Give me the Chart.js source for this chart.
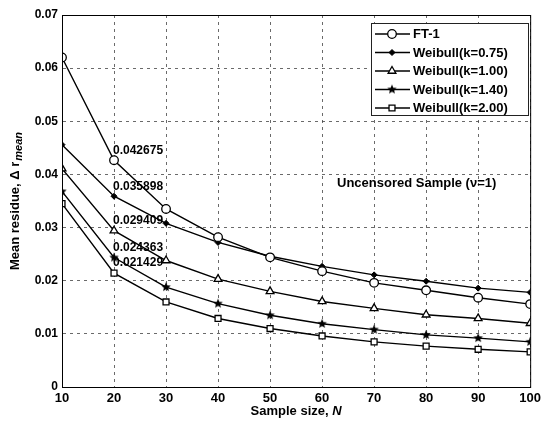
<!DOCTYPE html>
<html>
<head>
<meta charset="utf-8">
<script src="https://cdn.jsdelivr.net/npm/chart.js@4/dist/chart.umd.min.js"></script>
<style>
  html, body { margin: 0; padding: 0; background: #fff; }
  #wrap { width: 545px; height: 421px; position: relative; }
</style>
</head>
<body>
<div id="wrap"><canvas id="grafico"></canvas></div>
<script>
// ========== DADOS ==========
const tamanhos = [10, 20, 30, 40, 50, 60, 70, 80, 90, 100];

const serieFT1   = [0.0620, 0.042675, 0.0335, 0.0282, 0.0244, 0.0218, 0.0196, 0.0182, 0.0168, 0.0156];
const serieK075  = [0.0456, 0.035898, 0.0308, 0.0272, 0.0246, 0.0227, 0.0211, 0.0199, 0.0186, 0.0178];
const serieK100  = [0.0411, 0.029409, 0.0238, 0.0203, 0.0180, 0.0161, 0.0148, 0.0136, 0.0129, 0.0120];
const serieK140  = [0.0368, 0.024363, 0.0188, 0.0157, 0.0135, 0.0119, 0.0108, 0.0098, 0.0092, 0.0085];
const serieK200  = [0.0345, 0.021429, 0.0160, 0.0129, 0.0110, 0.0096, 0.0085, 0.0077, 0.0071, 0.0066];

const nomesSeries = ['FT-1', 'Weibull(k=0.75)', 'Weibull(k=1.00)', 'Weibull(k=1.40)', 'Weibull(k=2.00)'];
const rotulosPonto = ['0.042675', '0.035898', '0.029409', '0.024363', '0.021429'];
const textoAmostra = 'Uncensored Sample (\u03bd=1)';

const FONTE = "'Liberation Sans', Arial, sans-serif";

// ========== MARCADOR ESTRELA (preenchida) ==========
function criarEstrela(r) {
    const c = document.createElement('canvas');
    const t = Math.ceil(r * 2 + 2);
    c.width = t; c.height = t;
    const g = c.getContext('2d');
    g.fillStyle = '#000';
    g.beginPath();
    for (let k = 0; k < 10; k++) {
        const ang = -Math.PI / 2 + k * Math.PI / 5;
        const rr = (k % 2 === 0) ? r : r * 0.45;
        g.lineTo(t / 2 + rr * Math.cos(ang), t / 2 + rr * Math.sin(ang));
    }
    g.closePath();
    g.fill();
    return c;
}
const imgEstrela = criarEstrela(5);

// ========== ESTILOS DOS MARCADORES ==========
const estilos = [
    { pointStyle: 'circle',   radius: 4.3, fill: '#fff', borderWidth: 1.3 },
    { pointStyle: 'rectRot',  radius: 3,   fill: '#000', borderWidth: 1 },
    { pointStyle: 'triangle', radius: 4.5, fill: '#fff', borderWidth: 1.3 },
    { pointStyle: imgEstrela, radius: 5,   fill: '#000', borderWidth: 1 },
    { pointStyle: 'rect',     radius: 4.2, fill: '#fff', borderWidth: 1.3 }
];

const valores = [serieFT1, serieK075, serieK100, serieK140, serieK200];

const datasets = valores.map((v, i) => ({
    label: nomesSeries[i],
    data: tamanhos.map((n, j) => ({ x: n, y: v[j] })),
    borderColor: '#000',
    borderWidth: 1.4,
    backgroundColor: estilos[i].fill,
    pointStyle: estilos[i].pointStyle,
    pointRadius: estilos[i].radius,
    pointBorderWidth: estilos[i].borderWidth,
    pointBorderColor: '#000',
    pointBackgroundColor: estilos[i].fill,
    tension: 0
}));

// ========== PLUGIN: MOLDURA, RÓTULOS, LEGENDA, TÍTULOS ==========
const pluginExtras = {
    id: 'extras',
    afterDatasetsDraw(chart) {
        const ctx = chart.ctx;
        const area = chart.chartArea;
        const sx = chart.scales.x, sy = chart.scales.y;

        // moldura
        ctx.save();
        ctx.strokeStyle = '#000';
        ctx.lineWidth = 1;
        ctx.strokeRect(area.left + 0.5, area.top + 0.5, area.right - area.left, area.bottom - area.top);

        // rótulos dos pontos em N=20
        ctx.fillStyle = '#000';
        ctx.font = 'bold 12px ' + FONTE;
        ctx.textAlign = 'left';
        ctx.textBaseline = 'middle';
        valores.forEach((v, i) => {
            const px = sx.getPixelForValue(tamanhos[1]);
            const py = sy.getPixelForValue(v[1]);
            ctx.fillText(rotulosPonto[i], px - 1, py - 10);
        });

        // texto da amostra
        ctx.font = 'bold 13px ' + FONTE;
        ctx.fillText(textoAmostra, 337, 183);

        // legenda
        const lx = 371, ly = 23, lw = 157, lh = 92;
        ctx.fillStyle = '#fff';
        ctx.fillRect(lx, ly, lw, lh);
        ctx.strokeStyle = '#222';
        ctx.lineWidth = 1;
        ctx.strokeRect(lx + 0.5, ly + 0.5, lw, lh);
        nomesSeries.forEach((nome, i) => {
            const y = 34 + i * 18.5;
            ctx.strokeStyle = '#000';
            ctx.lineWidth = 1.4;
            ctx.beginPath();
            ctx.moveTo(375, y);
            ctx.lineTo(410, y);
            ctx.stroke();
            ctx.fillStyle = estilos[i].fill;
            ctx.lineWidth = estilos[i].borderWidth;
            Chart.helpers.drawPoint(ctx, {
                pointStyle: estilos[i].pointStyle,
                radius: estilos[i].radius,
                borderWidth: estilos[i].borderWidth,
                rotation: 0
            }, 392, y);
            ctx.fillStyle = '#000';
            ctx.font = 'bold 13px ' + FONTE;
            ctx.textAlign = 'left';
            ctx.textBaseline = 'middle';
            ctx.fillText(nome, 413, y + 0.5);
        });

        // título do eixo Y com subscrito
        ctx.save();
        ctx.translate(15, (area.top + area.bottom) / 2);
        ctx.rotate(-Math.PI / 2);
        ctx.fillStyle = '#000';
        ctx.textBaseline = 'middle';
        const parte1 = 'Mean residue, \u0394 r';
        ctx.font = 'bold italic 11px ' + FONTE;
        const wSub = ctx.measureText('mean').width;
        ctx.font = 'bold 13px ' + FONTE;
        const w1 = ctx.measureText(parte1).width;
        const inicio = -(w1 + wSub + 1) / 2;
        ctx.textAlign = 'left';
        ctx.fillText(parte1, inicio, 0);
        ctx.font = 'bold italic 11px ' + FONTE;
        ctx.fillText('mean', inicio + w1 + 1, 4);
        ctx.restore();

        // título do eixo X
        ctx.font = 'bold 13px ' + FONTE;
        const t1 = 'Sample size, ';
        const w2 = ctx.measureText(t1).width;
        ctx.font = 'bold italic 13px ' + FONTE;
        const w3 = ctx.measureText('N').width;
        const cx = (area.left + area.right) / 2 - (w2 + w3) / 2;
        ctx.textAlign = 'left';
        ctx.textBaseline = 'middle';
        ctx.font = 'bold 13px ' + FONTE;
        ctx.fillText(t1, cx, 411);
        ctx.font = 'bold italic 13px ' + FONTE;
        ctx.fillText('N', cx + w2, 411);

        ctx.restore();
    }
};

// ========== GRÁFICO ==========
const ctxGrafico = document.getElementById('grafico').getContext('2d');
const grafico = new Chart(ctxGrafico, {
    type: 'line',
    data: { datasets: datasets },
    options: {
        responsive: true,
        maintainAspectRatio: false,
        animation: false,
        layout: { padding: { top: 15, right: 12, left: 0, bottom: 0 } },
        plugins: {
            legend: { display: false },
            tooltip: { enabled: false }
        },
        scales: {
            x: {
                type: 'linear',
                min: 10,
                max: 100,
                afterFit(scale) { scale.height = 34; },
                ticks: {
                    stepSize: 10,
                    color: '#000',
                    padding: 4,
                    font: { family: FONTE, size: 13, weight: 'bold' }
                },
                grid: { color: '#444', lineWidth: 0.8, drawTicks: false },
                border: { display: true, color: '#000', dash: [3, 4] }
            },
            y: {
                min: 0,
                max: 0.07,
                afterFit(scale) { scale.width = 62; },
                ticks: {
                    stepSize: 0.01,
                    color: '#000',
                    padding: 4,
                    font: { family: FONTE, size: 12, weight: 'bold' },
                    callback: v => (v === 0 ? '0' : v.toFixed(2))
                },
                grid: { color: '#444', lineWidth: 0.8, drawTicks: false },
                border: { display: true, color: '#000', dash: [3, 4] }
            }
        }
    },
    plugins: [pluginExtras]
});
</script>
</body>
</html>
